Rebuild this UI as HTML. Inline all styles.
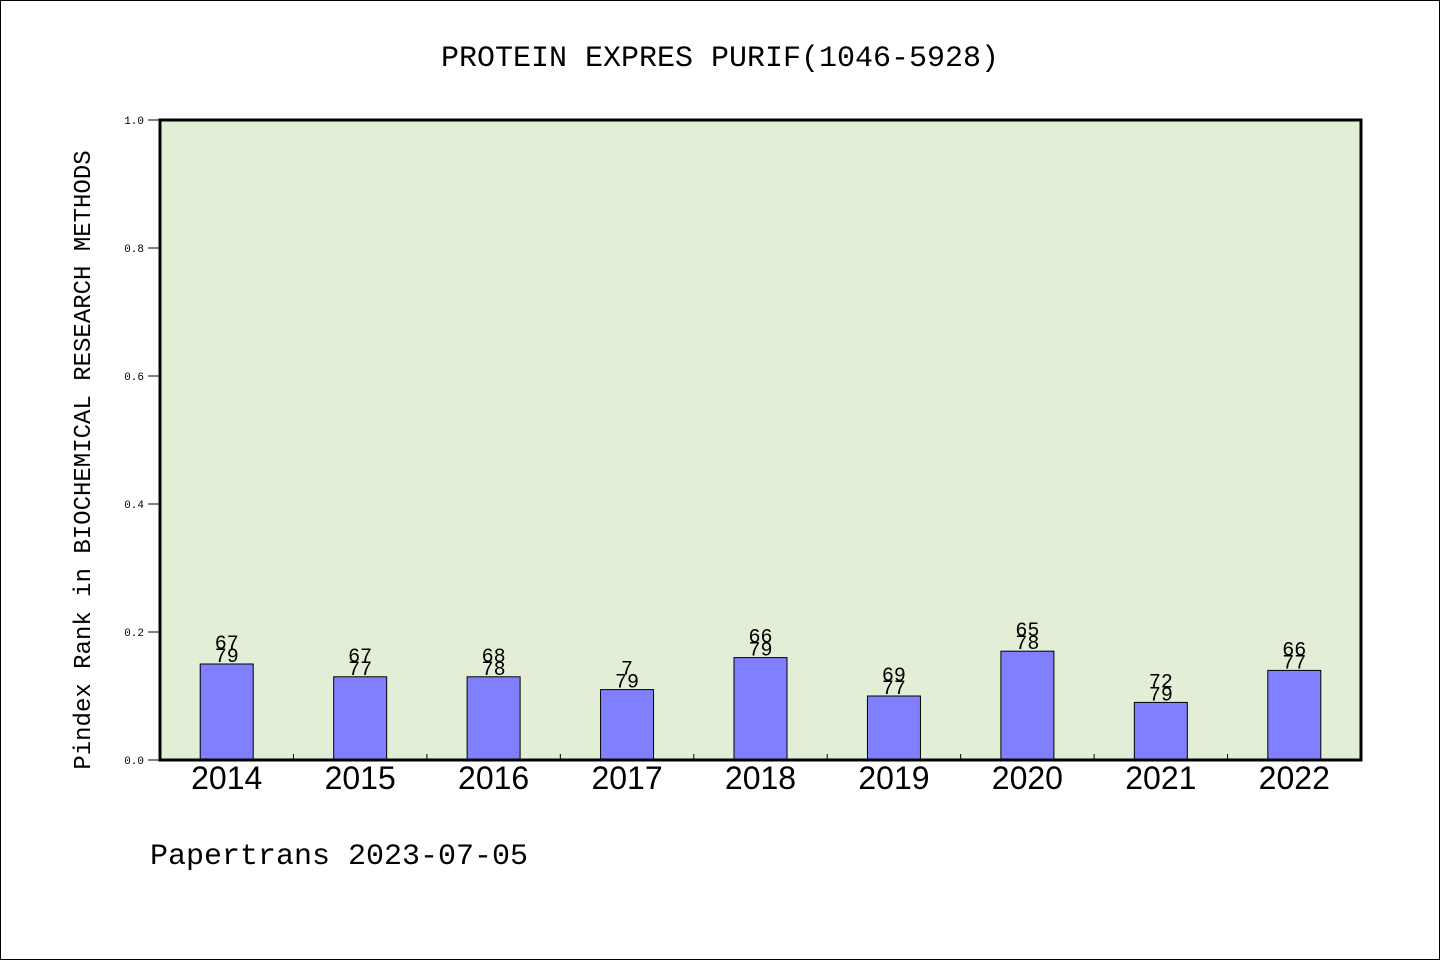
<!DOCTYPE html>
<html><head><meta charset="utf-8"><style>
body{margin:0;background:#fff}
svg{display:block}
text{font-family:"Liberation Mono","WenQuanYi Zen Hei",monospace;fill:#000}
</style></head><body>
<svg width="1440" height="960">
<rect x="0.5" y="0.5" width="1439" height="959" fill="#fff" stroke="#000"/>
<text x="720" y="66" font-size="30" text-anchor="middle">PROTEIN EXPRES PURIF(1046-5928)</text>
<rect x="160" y="120" width="1201" height="640" fill="#e2efd6"/>
<g id="yaxis"></g>
<g id="bars"></g>
<g id="xaxis"></g>
<rect x="160" y="120" width="1201" height="640" fill="none" stroke="#000" stroke-width="3"/>
<text transform="translate(90,460) rotate(-90)" font-size="24" text-anchor="middle">Pindex Rank in BIOCHEMICAL RESEARCH METHODS</text>
<text x="150" y="864" font-size="30">Papertrans 2023-07-05</text>
</svg>
<script>
const categories=["2014","2015","2016","2017","2018","2019","2020","2021","2022"];
const values=[0.15,0.13,0.13,0.11,0.16,0.10,0.17,0.09,0.14];
const ranks=["67","67","68","7","66","69","65","72","66"];
const totals=["79","77","78","79","79","77","78","79","77"];
const yTicks=["0.0","0.2","0.4","0.6","0.8","1.0"];
const NS="http://www.w3.org/2000/svg";
const X0=160,W=1201,Y0=760,H=640;
const bw=W/categories.length;
const y=v=>Y0-v*H;
const xc=i=>X0+bw*(i+0.5);
function mk(t,a,p){const e=document.createElementNS(NS,t);for(const k in a)e.setAttribute(k,a[k]);p.appendChild(e);return e;}
const ya=document.getElementById('yaxis'),ba=document.getElementById('bars'),xa=document.getElementById('xaxis');
yTicks.forEach(t=>{const v=parseFloat(t);
 const l=mk('line',{x1:X0-12,x2:X0,y1:y(v),y2:y(v),stroke:'#000'},ya);
 
 
 const tx=mk('text',{x:X0-16,y:y(v)+4,'font-size':11,'text-anchor':'end'},ya);tx.textContent=t;
 
 
});
categories.forEach((c,i)=>{
 const r=mk('rect',{x:xc(i)-26.5,y:y(values[i]),width:53,height:values[i]*H,fill:'#8080ff',stroke:'#000'},ba);
 
 
 const t1=mk('text',{x:xc(i),y:y(values[i])-15,'font-size':20,'text-anchor':'middle'},ba);t1.textContent=ranks[i];
 
 
 const t2=mk('text',{x:xc(i),y:y(values[i])-2,'font-size':20,'text-anchor':'middle'},ba);t2.textContent=totals[i];
 
 
 const xl=mk('text',{x:xc(i),y:789,'font-size':32,'text-anchor':'middle',style:'font-family:"Liberation Sans",sans-serif'},xa);xl.textContent=c;
 
 
 if(i>0){const tk=mk('line',{x1:X0+bw*i,x2:X0+bw*i,y1:Y0-6,y2:Y0,stroke:'#000'},xa);
 
 }
});
</script>
</body></html>
